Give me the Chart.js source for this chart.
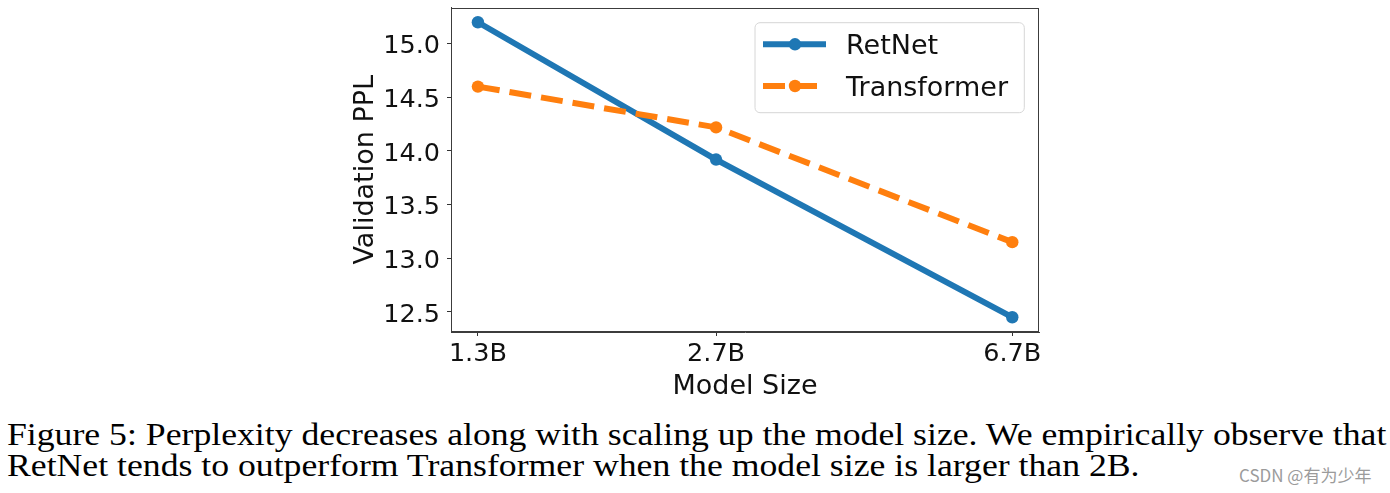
<!DOCTYPE html>
<html><head><meta charset="utf-8">
<script src="https://cdn.jsdelivr.net/npm/chart.js@4.4.0/dist/chart.umd.min.js"></script>
<style>
html,body{margin:0;padding:0;background:#fff;width:1390px;height:493px;overflow:hidden;}
#wrap{position:absolute;left:0;top:0;width:1390px;height:410px;}
#c{display:block;}
.cap{position:absolute;left:7px;font-family:"Liberation Serif","Times New Roman",serif;color:#000;white-space:nowrap;line-height:1;font-size:31px;transform-origin:0 0;}
#wm{position:absolute;left:1239px;font-family:"Noto Sans CJK SC","DejaVu Sans",sans-serif;color:#9b9b9b;font-size:17px;white-space:nowrap;line-height:1;}
</style></head><body>
<div id="wrap"><canvas id="c" width="1390" height="410" style="width:1390px;height:410px"></canvas></div>
<div class="cap" id="cap1"></div>
<div class="cap" id="cap2"></div>
<div id="wm"></div>
<script>
// ---- data ----
const modelSizes = [1.3, 2.7, 6.7];
const xTickLabels = ['1.3B', '2.7B', '6.7B'];
const yTickValues = [12.5, 13.0, 13.5, 14.0, 14.5, 15.0];
const retnetPPL = [15.2, 13.92, 12.45];
const transformerPPL = [14.6, 14.22, 13.15];
const seriesNames = ['RetNet', 'Transformer'];
const xTitle = 'Model Size';
const yTitle = 'Validation PPL';
const captionLines = [
  'Figure 5: Perplexity decreases along with scaling up the model size. We empirically observe that',
  'RetNet tends to outperform Transformer when the model size is larger than 2B.'
];
const watermark = 'CSDN @有为少年';

// ---- caption ----
(function(){
  const fs = 31;
  const m = document.createElement('canvas').getContext('2d');
  m.font = fs + 'px "Liberation Serif"';
  const w = m.measureText(captionLines[0]).width;
  const sx = 1380 / w;
  const c1 = document.getElementById('cap1'), c2 = document.getElementById('cap2');
  c1.textContent = captionLines[0]; c2.textContent = captionLines[1];
  [c1, c2].forEach(el => el.style.transform = 'scaleX(' + sx + ')');
  c1.style.top = (445.3 - 0.8375 * fs) + 'px';
  c2.style.top = (475.5 - 0.8375 * fs) + 'px';
  const wm = document.getElementById('wm');
  wm.textContent = watermark;
  wm.style.top = (481.7 - 0.936 * 17) + 'px';
})();

const toPts = arr => arr.map((v, i) => ({x: modelSizes[i], y: v}));

const framePlugin = {
  id: 'frame',
  afterDatasetsDraw(chart) {
    const {ctx, chartArea: a} = chart;
    ctx.save();
    ctx.strokeStyle = '#3c3c3c';
    ctx.lineWidth = 1;
    const l = Math.round(a.left) + 0.5, t = Math.round(a.top) + 0.5;
    const r = Math.round(a.right) - 0.5, b = Math.round(a.bottom) - 0.5;
    ctx.strokeRect(l, t, r - l, b - t);
    ctx.restore();
  },
  afterDraw(chart) {
    const {ctx, chartArea: a} = chart;
    const bx = a.right - 284, by = a.top + 15.2, bw = 269.3, bh = 90, rr = 5;
    ctx.save();
    ctx.beginPath();
    ctx.moveTo(bx + rr, by);
    ctx.arcTo(bx + bw, by, bx + bw, by + bh, rr);
    ctx.arcTo(bx + bw, by + bh, bx, by + bh, rr);
    ctx.arcTo(bx, by + bh, bx, by, rr);
    ctx.arcTo(bx, by, bx + bw, by, rr);
    ctx.closePath();
    ctx.fillStyle = 'rgba(255,255,255,0.8)';
    ctx.fill();
    ctx.strokeStyle = '#d6d6d6';
    ctx.lineWidth = 1;
    ctx.stroke();
    chart.data.datasets.forEach((ds, i) => {
      const y = by + 21.6 + i * 41.7;
      ctx.strokeStyle = ds.borderColor;
      ctx.lineWidth = ds.borderWidth;
      ctx.setLineDash(ds.borderDash || []);
      ctx.lineCap = 'butt';
      ctx.beginPath();
      ctx.moveTo(bx + 8, y);
      ctx.lineTo(bx + 71, y);
      ctx.stroke();
      ctx.setLineDash([]);
      ctx.fillStyle = ds.borderColor;
      ctx.beginPath();
      ctx.arc(bx + 40, y, ds.pointRadius, 0, Math.PI * 2);
      ctx.fill();
      ctx.fillStyle = '#111';
      ctx.font = '27px "DejaVu Sans"';
      ctx.textBaseline = 'middle';
      ctx.textAlign = 'left';
      ctx.fillText(ds.label, bx + 91, y + 2.5);
    });
    ctx.restore();
  }
};

new Chart(document.getElementById('c'), {
  type: 'line',
  data: {
    datasets: [
      {
        label: seriesNames[0], data: toPts(retnetPPL), order: 2,
        borderColor: '#1f77b4', backgroundColor: '#1f77b4',
        borderWidth: 6, pointRadius: 6.2, pointHoverRadius: 6.2,
        pointBackgroundColor: '#1f77b4', pointBorderWidth: 0, tension: 0,
        borderCapStyle: 'square', borderJoinStyle: 'round', fill: false
      },
      {
        label: seriesNames[1], data: toPts(transformerPPL), order: 1,
        borderColor: '#ff7f0e', backgroundColor: '#ff7f0e',
        borderWidth: 6, pointRadius: 6.2, pointHoverRadius: 6.2,
        pointBackgroundColor: '#ff7f0e', pointBorderWidth: 0, tension: 0,
        borderDash: [22, 10], borderCapStyle: 'butt', borderJoinStyle: 'round', fill: false
      }
    ]
  },
  options: {
    responsive: false,
    animation: false,
    devicePixelRatio: 1,
    layout: {padding: {left: 0, right: 351, top: 7.5, bottom: 0}},
    plugins: {legend: {display: false}, tooltip: {enabled: false}},
    scales: {
      x: {
        type: 'logarithmic',
        min: 1.197, max: 7.273,
        afterBuildTicks: s => { s.ticks = modelSizes.map(v => ({value: v})); },
        afterFit: s => { s.height = 78; s.paddingLeft = 0; s.paddingRight = 0; },
        ticks: {
          autoSkip: false, maxRotation: 0, padding: 3, color: '#111',
          font: {family: 'DejaVu Sans', size: 25.5},
          callback: (v, i) => xTickLabels[i]
        },
        grid: {display: true, drawOnChartArea: false, drawTicks: true, tickLength: 4, color: '#333', lineWidth: 1},
        border: {display: true, color: '#3c3c3c'},
        title: {display: true, text: xTitle, color: '#111', font: {family: 'DejaVu Sans', size: 27}, padding: {top: 0, bottom: 7}}
      },
      y: {
        type: 'linear',
        min: 12.3125, max: 15.3375,
        afterBuildTicks: s => { s.ticks = yTickValues.map(v => ({value: v})); },
        afterFit: s => { s.width = 451; s.paddingTop = 0; s.paddingBottom = 0; },
        ticks: {
          autoSkip: false, padding: 7, color: '#111', labelOffset: 3,
          font: {family: 'DejaVu Sans', size: 25.5},
          callback: v => Number(v).toFixed(1)
        },
        grid: {display: true, drawOnChartArea: false, drawTicks: true, tickLength: 4, color: '#333', lineWidth: 1},
        border: {display: true, color: '#3c3c3c'},
        title: {display: true, text: yTitle, color: '#111', font: {family: 'DejaVu Sans', size: 27}, padding: {top: 349.5, bottom: 0}}
      }
    }
  },
  plugins: [framePlugin]
});
</script>
</body></html>
